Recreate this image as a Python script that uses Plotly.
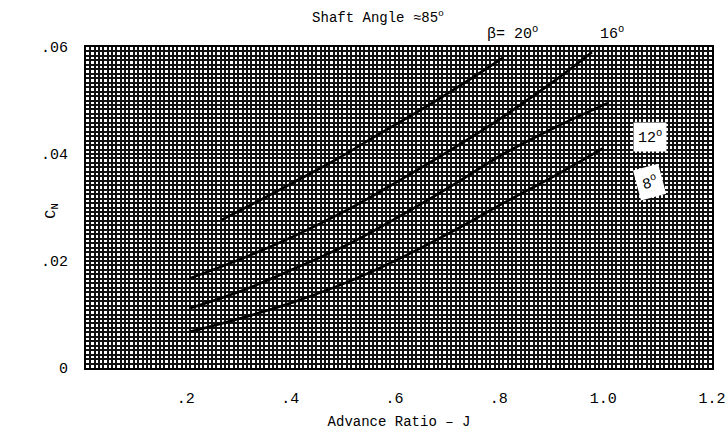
import plotly.graph_objects as go

# Data
J_20 = [0.26, 0.33, 0.40, 0.48, 0.56, 0.68, 0.80]
CN_20 = [0.0277, 0.0312, 0.0348, 0.0390, 0.0436, 0.0505, 0.0580]

J_16 = [0.20, 0.30, 0.40, 0.50, 0.60, 0.70, 0.80, 0.90, 0.97]
CN_16 = [0.0168, 0.0205, 0.0247, 0.0295, 0.0350, 0.0408, 0.0470, 0.0538, 0.0590]

J_12 = [0.20, 0.30, 0.40, 0.50, 0.60, 0.70, 0.80, 0.90, 1.00]
CN_12 = [0.0112, 0.0145, 0.0186, 0.0230, 0.0283, 0.0340, 0.0400, 0.0450, 0.0495]

J_8 = [0.20, 0.30, 0.40, 0.50, 0.60, 0.70, 0.80, 0.90, 0.99]
CN_8 = [0.0068, 0.0094, 0.0124, 0.0160, 0.0204, 0.0254, 0.0308, 0.0360, 0.0410]

x_tickvals = [0.2, 0.4, 0.6, 0.8, 1.0, 1.2]
x_ticktext = [".2\u00a0", ".4\u00a0", ".6\u00a0", ".8\u00a0", "1.0\u00a0", "1.2"]
y_tickvals = [0, 0.02, 0.04, 0.06]
y_ticktext = ["0", ".02", ".04", ".06"]

FONT = "Liberation Mono, Courier New, monospace"
GRID = "#111111"

fig = go.Figure()
for xs, ys in [(J_20, CN_20), (J_16, CN_16), (J_12, CN_12), (J_8, CN_8)]:
    fig.add_trace(go.Scatter(x=xs, y=ys, mode="lines", line=dict(color="black", width=2.6, shape="spline"),
                             showlegend=False, hoverinfo="skip"))

fig.update_layout(
    width=727, height=434,
    margin=dict(l=86, r=15, t=47, b=66, autoexpand=False),
    paper_bgcolor="white", plot_bgcolor="white",
    font=dict(family=FONT, size=13, color="black"),
    title=dict(text="Shaft Angle \u224885<sup>o</sup>", x=0.52, xanchor="center", y=0.961, yanchor="middle",
               font=dict(family=FONT, size=14, color="black")),
    xaxis=dict(
        range=[0, 1.2], tickmode="array", tickvals=x_tickvals, ticktext=x_ticktext,
        showgrid=True, gridcolor=GRID, gridwidth=2.2, automargin=False, ticklabeloverflow="allow",
        minor=dict(dtick=0.1 / 12, tick0=0, showgrid=True, gridcolor=GRID, gridwidth=1.8),
        ticks="", ticklabelstandoff=15, zeroline=False,
        showline=True, linecolor="black", linewidth=2, mirror=True,
        title=dict(text="Advance Ratio \u2013 J", standoff=9, font=dict(family=FONT, size=14)),
        tickfont=dict(family=FONT, size=15),
    ),
    yaxis=dict(
        range=[0, 0.06], tickmode="array", tickvals=y_tickvals, ticktext=y_ticktext,
        showgrid=True, gridcolor=GRID, gridwidth=2.2, automargin=False, ticklabeloverflow="allow",
        minor=dict(dtick=0.01 / 12, tick0=0, showgrid=True, gridcolor=GRID, gridwidth=1.8),
        ticks="", ticklabelstandoff=13, zeroline=False,
        showline=True, linecolor="black", linewidth=2, mirror=True,
        tickfont=dict(family=FONT, size=15),
    ),
    xaxis2=dict(overlaying="x", range=[0, 1.2], tickmode="linear", dtick=0.1, tick0=0, showgrid=True,
                gridcolor=GRID, gridwidth=2.2, showticklabels=False, ticks="", zeroline=False,
                automargin=False, showline=False),
    yaxis2=dict(overlaying="y", range=[0, 0.06], tickmode="linear", dtick=0.01, tick0=0, showgrid=True,
                gridcolor=GRID, gridwidth=2.2, showticklabels=False, ticks="", zeroline=False,
                automargin=False, showline=False),
)

# y-axis title
fig.add_annotation(x=-0.072, y=0.49, xref="paper", yref="paper", text="C<sub>N</sub>", textangle=-90,
                   showarrow=False, font=dict(family=FONT, size=15))

fig.add_annotation(x=0.817, y=1.045, xref="x", yref="paper", yanchor="middle", text="\u03b2= 20<sup>o</sup>",
                   showarrow=False, font=dict(family=FONT, size=15))
fig.add_annotation(x=1.008, y=1.045, xref="x", yref="paper", yanchor="middle", text="16<sup>o</sup>",
                   showarrow=False, font=dict(family=FONT, size=15))
fig.add_annotation(x=1.081, y=0.0432, xref="x", yref="y", text="12<sup>o</sup>",
                   showarrow=False, bgcolor="white", borderpad=4, font=dict(family=FONT, size=15))
fig.add_annotation(x=1.081, y=0.0348, xref="x", yref="y", text="8<sup>o</sup>", textangle=-15,
                   showarrow=False, bgcolor="white", borderpad=5, font=dict(family=FONT, size=15))

fig.write_html("out.html", config={"displayModeBar": False},
               post_script="document.body.style.margin='0';document.body.style.overflow='hidden';")
